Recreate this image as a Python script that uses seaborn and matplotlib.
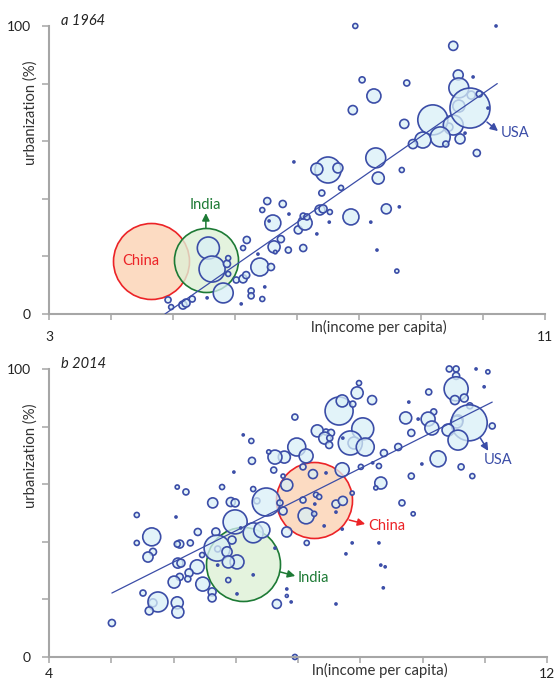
import numpy as np
import pandas as pd
import seaborn as sns
import matplotlib.pyplot as plt
from matplotlib import transforms

sns.set_style('ticks')
plt.rcParams['font.family'] = ['Lato', 'DejaVu Sans']

# ---- 1964 ----
inc64 = [4.92, 4.97, 5.16, 5.21, 5.31, 5.55, 5.57, 5.63, 5.87, 5.89, 5.89, 5.81,
         6.02, 6.13, 6.18, 6.13, 6.19, 6.10, 6.26, 6.26, 6.44, 6.48, 6.37, 6.40,
         6.58, 6.44, 6.52, 6.61, 6.63, 6.55, 6.77, 6.87, 6.74, 6.65, 6.86, 7.02,
         7.13, 7.10, 7.16, 7.10, 7.32, 7.37, 7.42, 7.53, 7.52, 7.40, 7.71, 7.87,
         8.19, 8.44, 8.65, 8.29, 8.61, 6.95, 7.50, 7.32, 7.66, 8.27, 8.31, 8.69,
         7.94, 10.21, 9.52, 9.60, 9.61, 9.84, 9.81, 9.61, 9.45, 9.19, 9.52, 9.79,
         9.94, 10.08, 9.31, 9.03, 8.87, 9.40, 9.63, 9.71, 9.90, 8.05, 8.77, 8.24,
         7.90, 8.73]
urb64 = [4.9, 2.4, 3.1, 3.8, 5.2, 5.6, 22.9, 15.6, 17.4, 19.4, 13.9, 7.3,
         11.8, 12.2, 13.5, 22.9, 25.7, 3.5, 8.0, 6.3, 5.2, 9.4, 20.8, 16.3,
         16.3, 36.1, 39.2, 31.6, 23.3, 32.3, 38.2, 34.7, 26.0, 21.5, 22.2, 29.2,
         31.6, 34.0, 33.7, 22.9, 27.8, 36.1, 36.5, 35.4, 31.9, 42.0, 43.8, 33.7,
         31.9, 36.5, 37.2, 22.2, 14.9, 52.8, 50.0, 50.3, 50.7, 54.2, 47.2, 50.0,
         100, 100, 93.1, 83.0, 78.5, 82.3, 76.0, 72.2, 64.9, 67.4, 65.6, 71.5,
         76.4, 71.5, 61.5, 60.4, 59.0, 59.0, 60.8, 62.8, 55.9, 81.3, 80.2, 75.7,
         70.8, 66.0]
pop64 = [4.4, 3, 7.8, 7.8, 4.4, 0.5, 59, 82, 6, 3, 3, 48,
         4.4, 7.8, 6, 3, 6, 0.5, 4.4, 4.4, 3, 0.5, 0.5, 39,
         6, 3, 6, 31, 17.5, 0.5, 6, 0.5, 6, 1.5, 4.4, 7.8,
         24, 4.4, 4.4, 6, 0.5, 12, 7.8, 3, 0.5, 4.4, 3, 31,
         0.5, 12, 0.5, 0.5, 2, 0.5, 82, 17.5, 12, 48, 17.5, 3,
         3, 0.5, 10, 12, 48, 0.5, 7.8, 17.5, 7.8, 109, 48, 194,
         4.4, 0.5, 48, 31, 10, 4.4, 12, 0.5, 6, 4.4, 4.4, 24,
         10, 10]
china64 = (4.645, 18.4, 700)
india64 = (5.53, 18.7, 497)
fit64_x = [4.87, 10.23]
fit64_y = [0, 80]

# ---- 2014 ----
inc14 = [7.12, 7.25, 7.26, 6.97, 6.78, 7.28, 6.06, 6.20, 5.41, 6.04, 6.63, 6.92,
         6.99, 7.34, 7.49, 6.99, 6.39, 6.68, 7.08, 7.28, 7.42, 5.65, 5.41, 5.67,
         5.59, 6.10, 6.06, 6.27, 6.71, 6.70, 6.86, 6.94, 7.02, 6.88, 6.71, 6.46,
         6.38, 6.07, 6.12, 6.25, 6.10, 6.01, 6.23, 6.47, 6.62, 6.62, 6.88, 7.02,
         7.28, 5.51, 5.67, 5.75, 5.61, 6.06, 6.07, 5.01,
         8.98, 8.95, 9.19, 8.66, 8.71, 8.88, 9.04, 8.90, 8.84, 9.08, 8.72, 7.95,
         8.31, 8.45, 8.53, 8.43, 8.51, 8.50, 7.98, 8.13, 7.78, 7.63, 7.53, 7.61,
         8.08, 8.71, 8.24, 8.45, 7.82, 7.76, 7.71, 7.76, 8.08, 8.29, 8.34, 8.27,
         8.61, 8.72, 8.13, 8.26, 8.42, 7.82, 8.14, 7.63, 9.01, 9.20, 9.30, 9.38,
         9.61, 9.78, 9.73, 9.82, 9.33, 9.25, 9.82, 9.67, 9.85, 8.87, 9.30, 8.77,
         8.87, 8.61, 8.71, 9.33, 9.40, 9.37, 8.61, 7.95, 7.66, 7.82, 7.82, 7.89,
         10.43, 10.54, 10.54, 10.86, 11.05, 10.99, 10.54, 10.52, 10.67, 10.10, 10.76,
         10.57, 10.55, 10.75, 10.41, 10.57, 10.18, 10.09, 10.15, 9.93, 11.12, 10.25,
         10.62, 10.80, 9.99]
urb14 = [77.1, 75.0, 68.1, 64.2, 59.0, 58.3, 59.0, 57.3, 49.3, 48.6, 53.5, 53.8,
         53.5, 54.2, 53.8, 46.9, 43.4, 43.4, 44.8, 43.1, 44.1, 41.7, 39.6, 36.5,
         34.7, 39.2, 39.2, 39.6, 37.5, 37.8, 36.5, 40.6, 33.0, 33.0, 31.9, 35.4,
         31.3, 32.6, 32.6, 29.2, 27.8, 26.0, 27.1, 25.3, 22.6, 20.5, 26.7, 21.9,
         28.5, 22.2, 18.8, 19.1, 16.0, 18.8, 15.6, 11.8,
         95.1, 91.7, 89.2, 85.4, 88.9, 87.8, 79.2, 74.3, 74.3, 72.9, 76.0, 83.3,
         78.5, 78.1, 77.8, 76.0, 76.0, 73.6, 72.9, 69.8, 69.4, 69.4, 71.2, 64.9,
         66.0, 65.0, 63.5, 63.9, 59.7, 62.8, 53.5, 50.7, 54.5, 56.3, 55.6, 53.1,
         53.1, 54.2, 49.0, 49.7, 45.5, 43.4, 39.6, 37.8, 66.0, 67.4, 66.3, 70.8,
         72.9, 88.5, 83.0, 77.8, 60.4, 58.7, 62.8, 53.5, 49.7, 39.6, 39.6, 35.8,
         56.9, 50.3, 44.4, 31.9, 31.3, 24.0, 18.4, 0.0, 18.4, 23.6, 21.2, 19.1,
         100, 100, 97.6, 100, 99.0, 93.8, 93.1, 89.2, 89.9, 92.0, 87.2,
         82.3, 81.6, 81.3, 78.8, 75.3, 85.1, 82.6, 79.5, 82.6, 80.2, 68.8,
         66.0, 62.8, 67.0]
pop14 = [1, 6, 11.5, 1, 6, 6, 4, 8.5, 6, 1, 24, 19,
         15, 8.5, 185, 136, 11.5, 15, 1, 94, 60, 76, 6, 11.5,
         24, 15, 8.5, 8.5, 8.5, 159, 24, 15, 46, 34, 1, 6,
         46, 24, 15, 15, 11.5, 34, 8.5, 46, 15, 15, 6, 1,
         1, 8.5, 15, 94, 15, 34, 34, 11.5,
         6, 34, 19, 185, 34, 8.5, 114, 34, 136, 76, 1, 8.5,
         34, 8.5, 11.5, 34, 8.5, 11.5, 76, 46, 34, 46, 4, 8.5,
         8.5, 46, 19, 1, 34, 4, 8.5, 15, 8.5, 6, 6, 1,
         15, 19, 60, 6, 1, 24, 6, 1, 6, 1, 6, 11.5,
         11.5, 1, 34, 11.5, 34, 4, 8.5, 8.5, 4, 1, 1, 1,
         4, 1, 1, 1, 1, 1, 1, 6, 19, 1, 2, 1,
         8.5, 8.5, 11.5, 1, 4, 1, 136, 19, 15, 8.5, 8.5,
         24, 34, 305, 34, 94, 8.5, 46, 46, 1, 8.5, 60,
         8.5, 6, 1]
china14 = (8.26, 54.5, 1361)
india14 = (7.12, 32.3, 1290)
fit14_x = [5.01, 11.12]
fit14_y = [22.2, 88.5]

BLUE = '#3b4da7'
FILL = (0.85, 0.94, 0.97, 0.75)
RED = '#ec2327'
GREEN = '#1d7a35'
GRAY = '#a6a6a6'


def off(ax, dx, dy):
    return transforms.offset_copy(ax.transData, fig=ax.figure, x=dx, y=dy, units='dots')


def arrow(ax, pt, a, b, color):
    ax.annotate('', xy=pt[:2], xycoords=off(ax, *b), xytext=pt[:2], textcoords=off(ax, *a),
                arrowprops=dict(arrowstyle='-|>', color=color, lw=1.1, mutation_scale=11,
                                shrinkA=0, shrinkB=0))


def panel(ax, inc, urb, pop, china, india, fx, fy, k, xlim, tag, xpad):
    # China and India underneath
    sns.scatterplot(x=[china[0]], y=[china[1]], s=k * china[2], ax=ax, facecolor=(0.99, 0.85, 0.75, 0.95),
                    edgecolor=RED, linewidth=1.2, clip_on=False, zorder=1)
    sns.scatterplot(x=[india[0]], y=[india[1]], s=k * india[2], ax=ax, facecolor=(0.87, 0.94, 0.84, 0.8),
                    edgecolor=GREEN, linewidth=1.2, clip_on=False, zorder=1)
    df = pd.DataFrame({'inc': inc, 'urb': urb, 'pop': pop})
    pmax = df['pop'].max()
    sns.scatterplot(data=df, x='inc', y='urb', size='pop', sizes=(0, k * pmax), size_norm=(0, pmax),
                    ax=ax, facecolor=FILL, edgecolor=BLUE, linewidth=1.2, legend=False,
                    clip_on=False, zorder=2)
    ax.plot(fx, fy, color=BLUE, lw=0.9, zorder=3)

    ax.set_xlim(*xlim)
    ax.set_ylim(0, 100)
    xt = list(range(xlim[0], xlim[1] + 1))
    ax.set_xticks(xt)
    ax.set_xticklabels([str(t) if t in xlim else '' for t in xt])
    ax.set_yticks(range(0, 101, 20))
    ax.set_yticklabels(['0', '', '', '', '', '100'])
    ax.tick_params(axis='x', length=4, width=1.1, color=GRAY, pad=xpad, labelsize=10, labelcolor='#222')
    ax.tick_params(axis='y', length=5, width=1.1, color=GRAY, pad=8, labelsize=10, labelcolor='#222')
    sns.despine(ax=ax)
    for s in ['left', 'bottom']:
        ax.spines[s].set_color(GRAY)
        ax.spines[s].set_linewidth(1.5)
    ax.set_xlabel('')
    ax.set_ylabel('')
    ax.text(0.665, -0.048, 'ln(income per capita)', transform=ax.transAxes, ha='center', va='center',
            fontsize=10.7, color='#333')
    ax.text(-0.038, 0.698, 'urbanization (%)', transform=ax.transAxes, ha='center', va='center',
            rotation=90, fontsize=10.7, color='#333')
    ax.text(0.024, 1.017, tag, transform=ax.transAxes, ha='left', va='center',
            fontsize=10.5, style='italic', color='#222')

    # USA is the largest of the remaining bubbles
    i = int(np.argmax(pop))
    return (inc[i], urb[i])


fig = plt.figure(figsize=(5.55, 6.82), dpi=100)
ax1 = fig.add_axes([0.0883, 0.5396, 0.8937, 0.4223])
ax2 = fig.add_axes([0.0883, 0.0367, 0.8973, 0.4223])

usa = panel(ax1, inc64, urb64, pop64, china64, india64, fit64_x, fit64_y, 4.276, (3, 11), 'a 1964', 8)
arrow(ax1, india64, (0, 32), (0, 47), GREEN)
ax1.text(india64[0], india64[1], 'India', transform=off(ax1, 0, 55), ha='center', va='center',
         color=GREEN, fontsize=10.5)
ax1.text(china64[0], china64[1], 'China', transform=off(ax1, -10, 0), ha='center', va='center',
         color=RED, fontsize=10.5)
arrow(ax1, usa, (17, -14), (28, -23), BLUE)
ax1.text(usa[0], usa[1], 'USA', transform=off(ax1, 31, -25), ha='left', va='center',
         color=BLUE, fontsize=10.5)

usa = panel(ax2, inc14, urb14, pop14, china14, india14, fit14_x, fit14_y, 2.2, (4, 12), 'b 2014', 4)
arrow(ax2, india14, (37, -8), (52, -12), GREEN)
ax2.text(india14[0], india14[1], 'India', transform=off(ax2, 54, -14), ha='left', va='center',
         color=GREEN, fontsize=10.5)
arrow(ax2, china14, (35, -20), (51, -24), RED)
ax2.text(china14[0], china14[1], 'China', transform=off(ax2, 54, -26), ha='left', va='center',
         color=RED, fontsize=10.5)
arrow(ax2, usa, (11, -15), (19, -28), BLUE)
ax2.text(usa[0], usa[1], 'USA', transform=off(ax2, 15, -37), ha='left', va='center',
         color=BLUE, fontsize=10.5)

fig.savefig('out.png', dpi=100)
